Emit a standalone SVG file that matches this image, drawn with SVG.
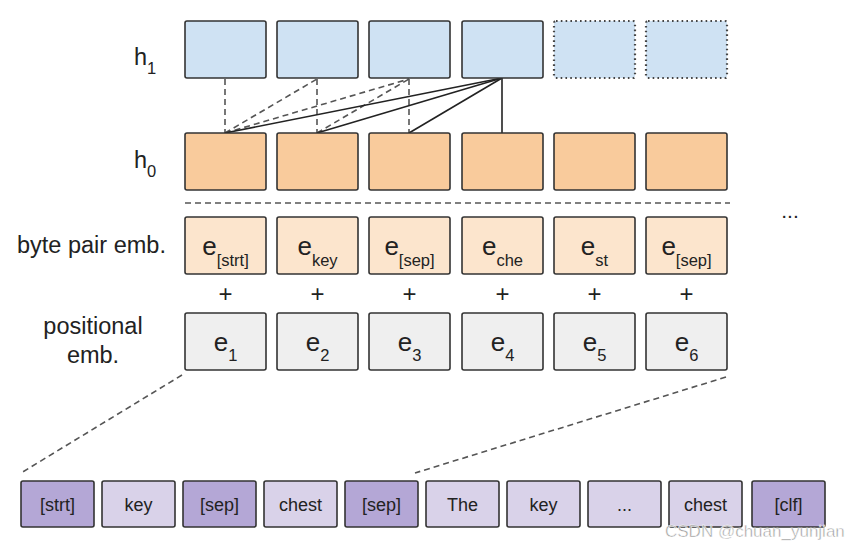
<svg xmlns="http://www.w3.org/2000/svg" width="865" height="551" viewBox="0 0 865 551">
<style>
text{font-family:"Liberation Sans",Arial,sans-serif;fill:#222}
.b{stroke:#333;stroke-width:1.6}
.h1{fill:#cfe2f3}
.dot{fill:#cfe2f3;stroke:#444;stroke-width:2.2;stroke-dasharray:1.6,3.2}
.h0{fill:#f9cb9c}
.bp{fill:#fce5cd}
.pe{fill:#efefef}
.dk{fill:#b4a7d6}
.lt{fill:#d9d2e9}
.dash{stroke:#555;stroke-width:1.6;stroke-dasharray:6,4;fill:none}
.sol{stroke:#222;stroke-width:1.6;fill:none}
.lab{font-size:23.5px}
.e{font-size:26px;text-anchor:middle}
.s{font-size:16.5px}
.plus{font-size:24px;text-anchor:middle}
.tok{font-size:18px;text-anchor:middle}
</style>
<g id="connectors">
<line class="dash" x1="225" y1="79" x2="225" y2="133"/>
<line class="dash" x1="317" y1="79" x2="317" y2="133"/>
<line class="dash" x1="409" y1="79" x2="409" y2="133"/>
<line class="dash" x1="225" y1="133" x2="317" y2="79"/>
<line class="dash" x1="225" y1="133" x2="409" y2="79"/>
<line class="dash" x1="317" y1="133" x2="409" y2="79"/>
<line class="sol" x1="502" y1="78" x2="225" y2="133"/>
<line class="sol" x1="502" y1="78" x2="317" y2="133"/>
<line class="sol" x1="502" y1="78" x2="409" y2="133"/>
<line class="sol" x1="502" y1="78" x2="502" y2="133"/>
<line class="dash" x1="185" y1="203" x2="730" y2="203"/>
<line class="dash" x1="182" y1="375" x2="21" y2="473"/>
<line class="dash" x1="726" y1="377" x2="415" y2="473"/>
</g>
<g id="labels">
<text class="lab" x="134" y="65">h<tspan class="s" dy="9">1</tspan></text>
<text class="lab" x="134" y="168">h<tspan class="s" dy="9">0</tspan></text>
<text class="lab" x="17" y="253">byte pair emb.</text>
<text class="lab" x="93" y="334" text-anchor="middle">positional</text>
<text class="lab" x="93" y="363" text-anchor="middle">emb.</text>
<text x="790" y="218" font-size="21" text-anchor="middle">...</text>
</g>
<g id="h1">
<rect class="b h1" x="185" y="21" width="81" height="57" rx="2"/>
<rect class="b h1" x="277" y="21" width="81" height="57" rx="2"/>
<rect class="b h1" x="369" y="21" width="81" height="57" rx="2"/>
<rect class="b h1" x="462" y="21" width="81" height="57" rx="2"/>
<rect class="dot" x="554" y="21" width="81" height="57" rx="2"/>
<rect class="dot" x="646" y="21" width="81" height="57" rx="2"/>
</g>
<g id="h0">
<rect class="b h0" x="185" y="133" width="81" height="57" rx="2"/>
<rect class="b h0" x="277" y="133" width="81" height="57" rx="2"/>
<rect class="b h0" x="369" y="133" width="81" height="57" rx="2"/>
<rect class="b h0" x="462" y="133" width="81" height="57" rx="2"/>
<rect class="b h0" x="554" y="133" width="81" height="57" rx="2"/>
<rect class="b h0" x="646" y="133" width="81" height="57" rx="2"/>
</g>
<g id="bytepair">
<rect class="b bp" x="185" y="217" width="81" height="57" rx="2"/>
<rect class="b bp" x="277" y="217" width="81" height="57" rx="2"/>
<rect class="b bp" x="369" y="217" width="81" height="57" rx="2"/>
<rect class="b bp" x="462" y="217" width="81" height="57" rx="2"/>
<rect class="b bp" x="554" y="217" width="81" height="57" rx="2"/>
<rect class="b bp" x="646" y="217" width="81" height="57" rx="2"/>
<text class="e" x="225.5" y="255">e<tspan class="s" dy="11">[strt]</tspan></text>
<text class="e" x="317.5" y="255">e<tspan class="s" dy="11">key</tspan></text>
<text class="e" x="409.5" y="255">e<tspan class="s" dy="11">[sep]</tspan></text>
<text class="e" x="502.5" y="255">e<tspan class="s" dy="11">che</tspan></text>
<text class="e" x="594.5" y="255">e<tspan class="s" dy="11">st</tspan></text>
<text class="e" x="686.5" y="255">e<tspan class="s" dy="11">[sep]</tspan></text>
</g>
<g id="plus">
<text class="plus" x="225.5" y="302">+</text>
<text class="plus" x="317.5" y="302">+</text>
<text class="plus" x="409.5" y="302">+</text>
<text class="plus" x="502.5" y="302">+</text>
<text class="plus" x="594.5" y="302">+</text>
<text class="plus" x="686.5" y="302">+</text>
</g>
<g id="positional">
<rect class="b pe" x="185" y="313" width="81" height="57" rx="2"/>
<rect class="b pe" x="277" y="313" width="81" height="57" rx="2"/>
<rect class="b pe" x="369" y="313" width="81" height="57" rx="2"/>
<rect class="b pe" x="462" y="313" width="81" height="57" rx="2"/>
<rect class="b pe" x="554" y="313" width="81" height="57" rx="2"/>
<rect class="b pe" x="646" y="313" width="81" height="57" rx="2"/>
<text class="e" x="225.5" y="351">e<tspan class="s" dy="10">1</tspan></text>
<text class="e" x="317.5" y="351">e<tspan class="s" dy="10">2</tspan></text>
<text class="e" x="409.5" y="351">e<tspan class="s" dy="10">3</tspan></text>
<text class="e" x="502.5" y="351">e<tspan class="s" dy="10">4</tspan></text>
<text class="e" x="594.5" y="351">e<tspan class="s" dy="10">5</tspan></text>
<text class="e" x="686.5" y="351">e<tspan class="s" dy="10">6</tspan></text>
</g>
<g id="tokens">
<rect class="b dk" x="21" y="481" width="73" height="46" rx="2"/>
<rect class="b lt" x="102" y="481" width="73" height="46" rx="2"/>
<rect class="b dk" x="183" y="481" width="73" height="46" rx="2"/>
<rect class="b lt" x="264" y="481" width="73" height="46" rx="2"/>
<rect class="b dk" x="345" y="481" width="73" height="46" rx="2"/>
<rect class="b lt" x="426" y="481" width="73" height="46" rx="2"/>
<rect class="b lt" x="507" y="481" width="73" height="46" rx="2"/>
<rect class="b lt" x="588" y="481" width="73" height="46" rx="2"/>
<rect class="b lt" x="669" y="481" width="73" height="46" rx="2"/>
<rect class="b dk" x="752" y="481" width="73" height="46" rx="2"/>
<text class="tok" x="57.5" y="511">[strt]</text>
<text class="tok" x="138.5" y="511">key</text>
<text class="tok" x="219.5" y="511">[sep]</text>
<text class="tok" x="300.5" y="511">chest</text>
<text class="tok" x="381.5" y="511">[sep]</text>
<text class="tok" x="462.5" y="511">The</text>
<text class="tok" x="543.5" y="511">key</text>
<text class="tok" x="624.5" y="511">...</text>
<text class="tok" x="705.5" y="511">chest</text>
<text class="tok" x="788.5" y="511">[clf]</text>
</g>
<text x="665" y="537" font-size="17" style="fill:#999;stroke:#fff;stroke-width:0.5">CSDN @chuan_yunjian</text>
</svg>
